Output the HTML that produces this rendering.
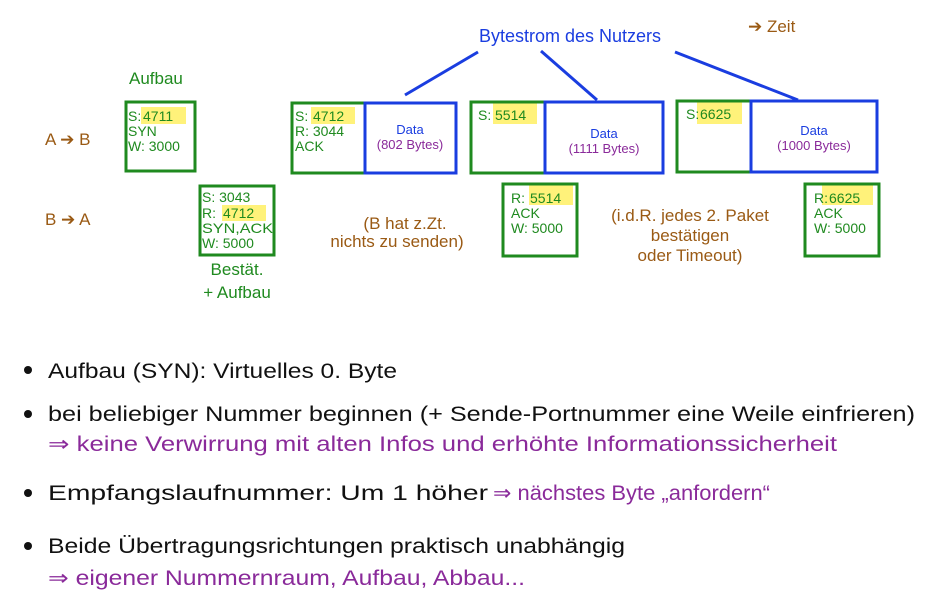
<!DOCTYPE html>
<html><head><meta charset="utf-8"><style>
html,body{margin:0;padding:0;background:#fff;}
svg{display:block;font-family:"Liberation Sans",sans-serif;}
</style></head><body>
<svg width="930" height="600" viewBox="0 0 930 600" xmlns="http://www.w3.org/2000/svg">
<!-- highlights -->
<g fill="#fff27a">
<rect x="141" y="107" width="45" height="17"/>
<rect x="311" y="107" width="44" height="17"/>
<rect x="222" y="205" width="44" height="16"/>
<rect x="493" y="103" width="44" height="21"/>
<rect x="697" y="102" width="45" height="22"/>
<rect x="529" y="184" width="44" height="21"/>
<rect x="822" y="184" width="51" height="21"/>
</g>
<!-- blue lines -->
<g stroke="#1a3de0" stroke-width="3" fill="none">
<line x1="478" y1="52" x2="405" y2="95"/>
<line x1="541" y1="51" x2="597" y2="100"/>
<line x1="675" y1="52" x2="798" y2="100"/>
</g>
<!-- boxes -->
<g fill="none" stroke-width="3">
<rect x="126" y="102" width="69" height="69" stroke="#1f8a1f"/>
<rect x="200" y="186" width="74" height="69" stroke="#1f8a1f"/>
<rect x="292" y="103" width="73" height="70" stroke="#1f8a1f"/>
<rect x="365" y="103" width="91" height="70" stroke="#1a3de0"/>
<rect x="471" y="102" width="74" height="71" stroke="#1f8a1f"/>
<rect x="545" y="102" width="118" height="71" stroke="#1a3de0"/>
<rect x="677" y="101" width="74" height="71" stroke="#1f8a1f"/>
<rect x="751" y="101" width="126" height="71" stroke="#1a3de0"/>
<rect x="503" y="184" width="74" height="72" stroke="#1f8a1f"/>
<rect x="805" y="184" width="74" height="72" stroke="#1f8a1f"/>
</g>
<!-- green box text -->
<g fill="#1f8a1f" font-size="14">
<text x="128" y="121">S:</text><text x="143" y="121">4711</text><text x="128" y="136">SYN</text><text x="128" y="151">W: 3000</text>
<text x="202" y="202">S: 3043</text><text x="202" y="218">R:</text><text x="223" y="218">4712</text><text x="202" y="233" textLength="71" lengthAdjust="spacingAndGlyphs">SYN,ACK</text><text x="202" y="248">W: 5000</text>
<text x="295" y="121">S:</text><text x="313" y="121">4712</text><text x="295" y="136">R: 3044</text><text x="295" y="151">ACK</text>
<text x="478" y="120">S:</text><text x="495" y="120">5514</text>
<text x="686" y="119">S:</text><text x="700" y="119">6625</text>
<text x="511" y="203">R:</text><text x="530" y="203">5514</text><text x="511" y="218">ACK</text><text x="511" y="233">W: 5000</text>
<text x="814" y="203">R:</text><text x="829" y="203">6625</text><text x="814" y="218">ACK</text><text x="814" y="233">W: 5000</text>
</g>
<g fill="#1f8a1f" font-size="17">
<text x="129" y="84">Aufbau</text>
<text x="237" y="275" text-anchor="middle">Bestät.</text>
<text x="237" y="298" text-anchor="middle">+ Aufbau</text>
</g>
<!-- data text -->
<g font-size="13" text-anchor="middle">
<text x="410" y="134" fill="#1a3de0">Data</text><text x="410" y="149" fill="#8a2a9a">(802 Bytes)</text>
<text x="604" y="138" fill="#1a3de0">Data</text><text x="604" y="153" fill="#8a2a9a">(1111 Bytes)</text>
<text x="814" y="135" fill="#1a3de0">Data</text><text x="814" y="150" fill="#8a2a9a">(1000 Bytes)</text>
</g>
<text x="570" y="42" fill="#1a3de0" font-size="18" text-anchor="middle">Bytestrom des Nutzers</text>
<!-- brown text -->
<g fill="#9a5a14" font-size="17">
<text x="45" y="145">A ➔ B</text>
<text x="45" y="225">B ➔ A</text>
<text x="748" y="32">➔ Zeit</text>
<text x="405" y="229" text-anchor="middle">(B hat z.Zt.</text>
<text x="397" y="247" text-anchor="middle">nichts zu senden)</text>
<text x="690" y="221" text-anchor="middle">(i.d.R. jedes 2. Paket</text>
<text x="690" y="241" text-anchor="middle">bestätigen</text>
<text x="690" y="261" text-anchor="middle">oder Timeout)</text>
</g>
<!-- bullets -->
<g fill="#111">
<circle cx="28" cy="370" r="4"/><circle cx="28" cy="414" r="4"/><circle cx="28" cy="493" r="4"/><circle cx="28" cy="546" r="4"/>
</g>
<g font-size="21">
<text x="48" y="378" fill="#111" textLength="349" lengthAdjust="spacingAndGlyphs">Aufbau (SYN): Virtuelles 0. Byte</text>
<text x="48" y="421" fill="#111" textLength="867" lengthAdjust="spacingAndGlyphs">bei beliebiger Nummer beginnen (+ Sende-Portnummer eine Weile einfrieren)</text>
<text x="48" y="451" fill="#8a2a9a" textLength="789" lengthAdjust="spacingAndGlyphs">⇒ keine Verwirrung mit alten Infos und erhöhte Informationssicherheit</text>
<text x="48" y="500" fill="#111" textLength="440" lengthAdjust="spacingAndGlyphs">Empfangslaufnummer:  Um 1 höher</text>
<text x="493" y="500" fill="#8a2a9a" textLength="277" lengthAdjust="spacingAndGlyphs">⇒ nächstes Byte „anfordern“</text>
<text x="48" y="553" fill="#111" textLength="577" lengthAdjust="spacingAndGlyphs">Beide Übertragungsrichtungen praktisch unabhängig</text>
<text x="48" y="585" fill="#8a2a9a" textLength="477" lengthAdjust="spacingAndGlyphs">⇒ eigener Nummernraum, Aufbau, Abbau...</text>
</g>
</svg>
</body></html>
